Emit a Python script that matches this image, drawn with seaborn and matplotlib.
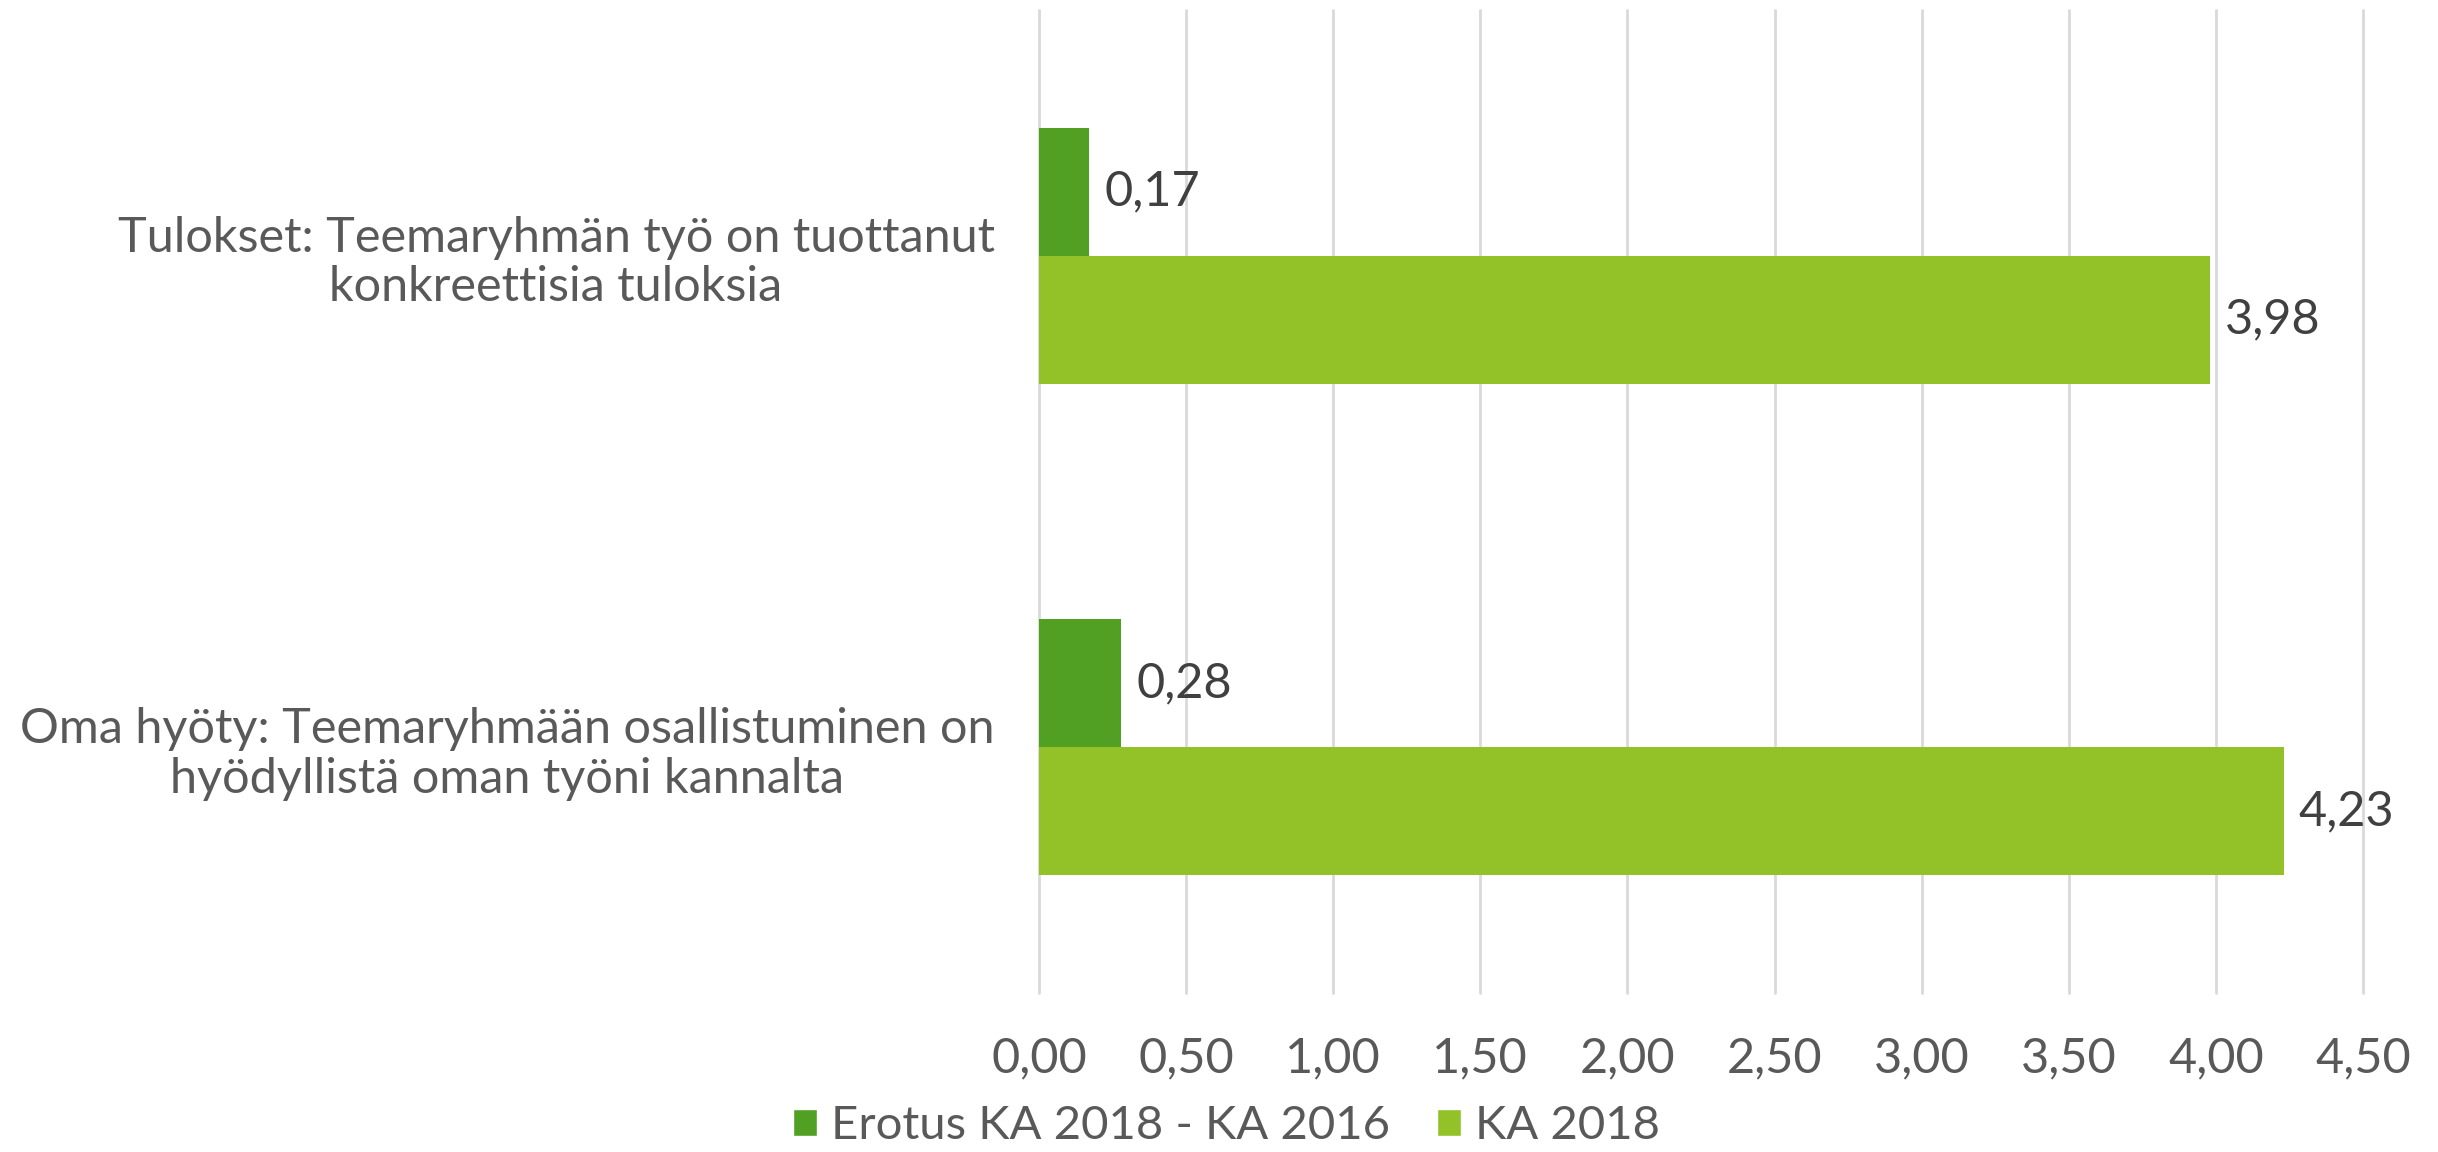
import matplotlib
matplotlib.use("Agg")
import matplotlib.pyplot as plt
import pandas as pd
import seaborn as sns
from matplotlib.patches import Patch
from matplotlib.ticker import FuncFormatter, MultipleLocator

sns.set_theme(style="white")
plt.rcParams['font.family'] = ['Lato', 'DejaVu Sans']

# Data
categories = [
    "Tulokset: Teemaryhmän työ on tuottanut\nkonkreettisia tuloksia",
    "Oma hyöty: Teemaryhmään osallistuminen on\nhyödyllistä oman työni kannalta",
]
series = ["Erotus KA 2018 - KA 2016", "KA 2018"]
erotus = [0.17, 0.28]
ka_2018 = [3.98, 4.23]
colors = ["#52A023", "#92C128"]

df = pd.DataFrame({
    "kysymys": categories * 2,
    "sarja": [series[0]] * 2 + [series[1]] * 2,
    "arvo": erotus + ka_2018,
})

fig = plt.figure(figsize=(24.38, 11.52), dpi=100)
ax = fig.add_axes([1039 / 2438, 1 - 993 / 1152, (2363 - 1039) / 2438, 983 / 1152])

sns.barplot(data=df, y="kysymys", x="arvo", hue="sarja", hue_order=series,
            palette=colors, orient="h", width=0.52, saturation=1,
            linewidth=0, ax=ax, legend=False)

fmt = lambda v: f"{v:.2f}".replace(".", ",")

for cont in ax.containers:
    ax.bar_label(cont, labels=[fmt(b.get_width()) for b in cont],
                 padding=11, fontsize=35, color="#404040")

ax.set_xlim(0, 4.5)
ax.xaxis.set_major_locator(MultipleLocator(0.5))
ax.xaxis.set_major_formatter(FuncFormatter(lambda v, p: fmt(v)))
ax.grid(axis="x", color="#D9D9D9", linewidth=2)
for gl in ax.get_xgridlines():
    gl.set_clip_on(False)
ax.set_axisbelow(True)
for s in ax.spines.values():
    s.set_visible(False)
ax.tick_params(axis="x", length=0, pad=31, labelsize=35, labelcolor="#595959")
ax.tick_params(axis="y", length=0, pad=32, labelsize=35, labelcolor="#595959")
for t in ax.get_yticklabels():
    t.set_multialignment("center")
    t.set_linespacing(1.15)
ax.set_xlabel("")
ax.set_ylabel("")

handles = [Patch(facecolor=c, label=s) for c, s in zip(colors, series)]
fig.legend(handles=handles, loc="center", bbox_to_anchor=(0.503, 1 - 1126 / 1152),
           ncol=2, frameon=False, fontsize=34, labelcolor="#595959",
           handlelength=0.5, handleheight=0.5, handletextpad=0.3,
           columnspacing=1.0, borderaxespad=0, borderpad=0)

fig.savefig("out.png", dpi=100)
